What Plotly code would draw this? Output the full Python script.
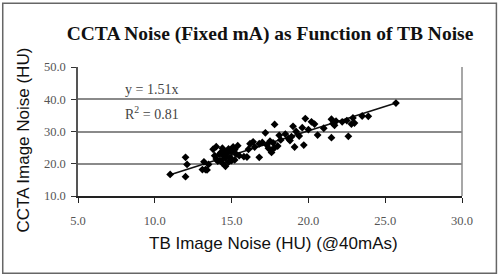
import plotly.graph_objects as go

# ---- data ----
tb_noise = [11.0, 12.0, 12.0, 12.1, 13.1, 13.3, 13.4, 13.2, 13.5,
            13.8, 14.0, 13.9, 14.0, 14.1, 14.2, 14.3, 14.3, 14.4, 14.4, 14.5,
            14.5, 14.6, 14.6, 14.7, 14.8, 14.8, 14.9, 15.0, 15.0, 15.1, 15.2,
            15.2, 15.3, 15.4, 15.5,
            15.8, 16.0, 16.1, 16.2, 16.4, 16.5, 16.8, 16.8, 17.0, 17.2, 17.3,
            17.4, 17.5, 17.6, 17.6, 17.7, 17.8, 17.8, 18.0, 18.1, 18.2, 18.5,
            18.7, 18.8, 18.9, 19.0, 19.1, 19.2, 19.4, 19.6, 19.7, 19.8, 20.0,
            20.2, 20.4, 20.6, 21.0, 21.5, 21.5, 21.6, 21.7, 21.8, 22.2, 22.5,
            22.6, 22.8, 22.9, 23.0, 23.5, 23.9, 25.7]
ccta_noise = [16.7, 22.0, 16.0, 19.8, 18.2, 18.2, 18.1, 20.6, 19.8,
              24.5, 25.3, 22.5, 21.5, 20.8, 22.9, 23.5, 21.0, 24.8, 20.2, 22.4,
              24.0, 21.7, 19.2, 23.2, 20.5, 24.6, 22.0, 23.8, 21.0, 25.2, 21.2,
              24.4, 23.0, 25.6, 22.5,
              22.2, 22.1, 24.5, 26.2, 26.8, 25.2, 22.0, 26.2, 26.6, 29.6, 25.8,
              24.8, 27.0, 24.2, 23.5, 26.5, 32.2, 25.0, 25.5, 28.8, 27.4, 29.2,
              27.8, 27.2, 28.4, 31.6, 25.2, 30.0, 28.6, 31.2, 25.8, 34.0, 30.6,
              33.0, 32.3, 28.9, 31.0, 28.1, 33.8, 32.5, 31.9, 33.2, 33.0, 33.4,
              28.5, 32.3, 34.2, 32.6, 34.8, 34.7, 38.8]
slope = 1.51
r_squared = 0.81
x_ticks = [5.0, 10.0, 15.0, 20.0, 25.0, 30.0]
y_ticks = [10.0, 20.0, 30.0, 40.0, 50.0]

title_text = "CCTA Noise (Fixed mA) as Function of TB Noise"
x_title = "TB Image Noise (HU) (@40mAs)"
y_title = "CCTA Image Noise (HU)"

# trendline through origin over data range
trend_x = [min(tb_noise), max(tb_noise)]
trend_y = [slope * v for v in trend_x]

fig = go.Figure()
fig.add_trace(go.Scatter(
    x=trend_x, y=trend_y, mode="lines",
    line=dict(color="#111111", width=1.6), hoverinfo="skip", showlegend=False))
fig.add_trace(go.Scatter(
    x=tb_noise, y=ccta_noise, mode="markers",
    marker=dict(symbol="diamond", size=6, color="#000000"),
    showlegend=False))

serif = "Liberation Serif, Times New Roman, serif"
sans = "Liberation Sans, Arial, sans-serif"

fig.update_layout(
    width=500, height=277,
    margin=dict(l=78, r=38, t=67, b=81),
    paper_bgcolor="white", plot_bgcolor="white",
    title=dict(text="<b>" + title_text + "</b>", xref="container", x=0.54,
               y=1 - 33 / 277, yanchor="middle", xanchor="center",
               font=dict(family=serif, size=19.5, color="#111111")),
    xaxis=dict(range=[5, 30], tickvals=x_ticks,
               ticktext=[f"{v:.1f}" for v in x_ticks],
               showgrid=False, zeroline=False,
               showline=True, linecolor="#222222", linewidth=1.5,
               ticks="outside", ticklen=5, tickcolor="#222222", tickwidth=1.2,
               ticklabelstandoff=7,
               tickfont=dict(family=serif, size=12.5, color="#555555")),
    yaxis=dict(range=[10, 50], tickvals=y_ticks,
               ticktext=[f"{v:.1f}" for v in y_ticks],
               showgrid=True, gridcolor="#8a8a8a", gridwidth=1.5, zeroline=False,
               showline=True, linecolor="#555555", linewidth=1.5,
               ticks="outside", ticklen=5, tickcolor="#333333", tickwidth=1.2,
               ticklabelstandoff=3,
               tickfont=dict(family=serif, size=12.5, color="#555555")),
    annotations=[
        dict(text=x_title, xref="paper", yref="paper", x=0.5096, y=-0.3667,
             xanchor="center", yanchor="middle", showarrow=False,
             font=dict(family=sans, size=17, color="#111111")),
        dict(text=y_title, xref="paper", yref="paper", x=-0.1414, y=0.4357,
             xanchor="center", yanchor="middle", showarrow=False, textangle=-90,
             font=dict(family=sans, size=17, color="#111111")),
        dict(text=f"y = {slope:.2f}x", xref="x", yref="y", x=7.9, y=43.1,
             xanchor="left", yanchor="middle", showarrow=False,
             font=dict(family=serif, size=14, color="#444444")),
        dict(text=f"R<sup>2</sup> = {r_squared:.2f}", xref="x", yref="y", x=7.9, y=35.6,
             xanchor="left", yanchor="middle", showarrow=False,
             font=dict(family=serif, size=14, color="#444444")),
    ],
    shapes=[
        # right border of plot area
        dict(type="line", xref="paper", yref="paper", x0=1, x1=1, y0=0, y1=1,
             line=dict(color="#8a8a8a", width=1.5)),
        # outer frame of the figure
        dict(type="rect", xref="paper", yref="paper",
             x0=-0.196, x1=1.0896, y0=-0.599, y1=1.4938,
             line=dict(color="#666666", width=1.5)),
    ],
)

fig.write_html("out.html",
               config={"displayModeBar": False},
               post_script="document.body.style.margin='0px';document.body.style.overflow='hidden';")
